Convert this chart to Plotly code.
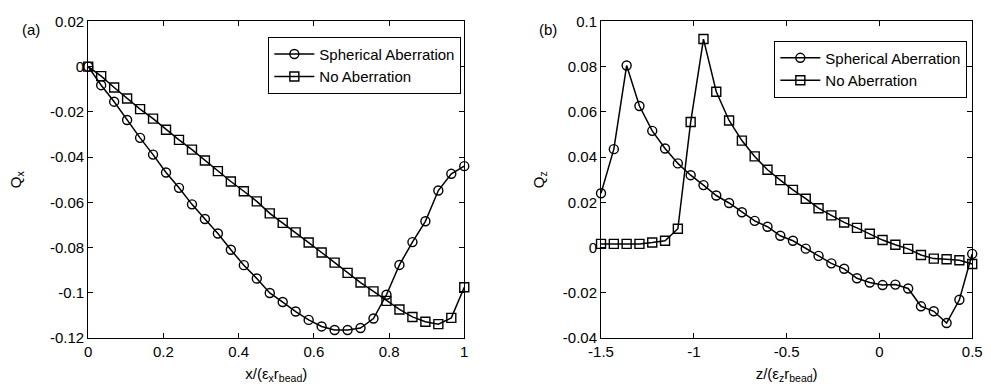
import plotly.graph_objects as go

# ---- panel (a): transverse trapping efficiency vs normalised x offset ----
x_a = [0.0, 0.0345, 0.069, 0.1034, 0.1379, 0.1724, 0.2069, 0.2414, 0.2759, 0.3103,
       0.3448, 0.3793, 0.4138, 0.4483, 0.4828, 0.5172, 0.5517, 0.5862, 0.6207, 0.6552,
       0.6897, 0.7241, 0.7586, 0.7931, 0.8276, 0.8621, 0.8966, 0.931, 0.9655, 1.0]
qx_spherical = [0.0, -0.0082, -0.0155, -0.0236, -0.0315, -0.0389, -0.0468, -0.0536, -0.0609, -0.0674,
                -0.0738, -0.0810, -0.0878, -0.0937, -0.1001, -0.1041, -0.1083, -0.1120, -0.1149, -0.1165,
                -0.1165, -0.1156, -0.1114, -0.1009, -0.0877, -0.0776, -0.0684, -0.0548, -0.0474, -0.0440]
qx_none = [0.0, -0.0042, -0.0092, -0.0141, -0.0188, -0.0230, -0.0279, -0.0324, -0.0367, -0.0415,
           -0.0462, -0.0508, -0.0551, -0.0596, -0.0649, -0.0691, -0.0733, -0.0778, -0.0822, -0.0867,
           -0.0912, -0.0955, -0.0994, -0.1036, -0.1074, -0.1107, -0.1128, -0.1139, -0.1111, -0.0976]

# ---- panel (b): axial trapping efficiency vs normalised z offset ----
z_b = [-1.5, -1.431, -1.362, -1.293, -1.224, -1.155, -1.086, -1.017, -0.948, -0.879,
       -0.810, -0.741, -0.672, -0.603, -0.534, -0.466, -0.397, -0.328, -0.259, -0.190,
       -0.121, -0.052, 0.017, 0.086, 0.155, 0.224, 0.293, 0.362, 0.431, 0.5]
qz_spherical = [0.0240, 0.0435, 0.0805, 0.0626, 0.0516, 0.0438, 0.0372, 0.0320, 0.0276, 0.0230,
                0.0197, 0.0156, 0.0118, 0.0092, 0.0052, 0.0030, -0.0005, -0.0037, -0.0070, -0.0094,
                -0.0136, -0.0155, -0.0166, -0.0164, -0.0181, -0.0260, -0.0282, -0.0334, -0.0231, -0.0028]
qz_none = [0.0016, 0.0016, 0.0016, 0.0016, 0.0022, 0.0030, 0.0083, 0.0555, 0.0922, 0.0689,
           0.0562, 0.0473, 0.0403, 0.0344, 0.0298, 0.0255, 0.0216, 0.0174, 0.0142, 0.0111,
           0.0087, 0.0061, 0.0033, 0.0012, -0.0006, -0.0033, -0.0049, -0.0052, -0.0056, -0.0073]

series_names = ["Spherical Aberration", "No Aberration"]

xa_ticks = [0, 0.2, 0.4, 0.6, 0.8, 1]
xa_ticktext = ["0", "0.2", "0.4", "0.6", "0.8", "1"]
ya_ticks = [-0.12, -0.1, -0.08, -0.06, -0.04, -0.02, 0, 0.02]
ya_ticktext = ["-0.12", "-0.1", "-0.08", "-0.06", "-0.04", "-0.02", "0", "0.02"]
xb_ticks = [-1.5, -1, -0.5, 0, 0.5]
xb_ticktext = ["-1.5", "-1", "-0.5", "0", "0.5"]
yb_ticks = [-0.04, -0.02, 0, 0.02, 0.04, 0.06, 0.08, 0.1]
yb_ticktext = ["-0.04", "-0.02", "0", "0.02", "0.04", "0.06", "0.08", "0.1"]

FONT = "Liberation Sans, Arial, sans-serif"
W, H = 991, 389


def px_x(p):
    return p / W


def px_y(p):
    return 1 - p / H


fig = go.Figure()


def add_series(x, y, name, symbol, xaxis, yaxis, legend):
    fig.add_trace(go.Scatter(
        x=x, y=y, name=name, mode="lines+markers",
        xaxis=xaxis, yaxis=yaxis, legend=legend, cliponaxis=False,
        line=dict(color="black", width=1.5),
        marker=dict(symbol=symbol, size=9, color="black",
                    line=dict(color="black", width=1.4)),
    ))


add_series(x_a, qx_spherical, series_names[0], "circle-open", "x", "y", "legend")
add_series(x_a, qx_none, series_names[1], "square-open", "x", "y", "legend")
add_series(z_b, qz_spherical, series_names[0], "circle-open", "x2", "y2", "legend2")
add_series(z_b, qz_none, series_names[1], "square-open", "x2", "y2", "legend2")

axis_common = dict(
    showgrid=False, zeroline=False, showline=True, linecolor="black", linewidth=1,
    mirror="ticks", ticks="inside", ticklen=5, tickcolor="black",
    tickfont=dict(family=FONT, size=15, color="black"),
    title_font=dict(family=FONT, size=15, color="black"),
)

y_dom = [px_y(344), px_y(13)]

legend_common = dict(
    bgcolor="white", bordercolor="black", borderwidth=1,
    font=dict(family=FONT, size=15, color="black"),
    itemwidth=40, tracegroupgap=0, yanchor="top", xanchor="right",
)

fig.update_layout(
    width=W, height=H,
    margin=dict(l=0, r=0, t=0, b=0),
    paper_bgcolor="white", plot_bgcolor="white",
    font=dict(family=FONT, size=14, color="black"),
    xaxis=dict(axis_common, domain=[px_x(77), px_x(462)], range=[0, 1],
               tickvals=xa_ticks, ticktext=xa_ticktext,
               title=dict(text="x/(ε<sub>x</sub>r<sub>bead</sub>)", standoff=9), anchor="y"),
    yaxis=dict(axis_common, domain=y_dom, range=[-0.12, 0.02],
               tickvals=ya_ticks, ticktext=ya_ticktext,
               title=dict(text="Q<sub>x</sub>", standoff=24), anchor="x"),
    xaxis2=dict(axis_common, domain=[px_x(602), px_x(982)], range=[-1.5, 0.5],
                tickvals=xb_ticks, ticktext=xb_ticktext,
                title=dict(text="z/(ε<sub>z</sub>r<sub>bead</sub>)", standoff=9), anchor="y2"),
    yaxis2=dict(axis_common, domain=y_dom, range=[-0.04, 0.1],
                tickvals=yb_ticks, ticktext=yb_ticktext,
                title=dict(text="Q<sub>z</sub>", standoff=14), anchor="x2"),
    legend=dict(legend_common, x=px_x(459), y=px_y(29)),
    legend2=dict(legend_common, x=px_x(977), y=px_y(33)),
    showlegend=True,
    annotations=[
        dict(text="(a)", x=px_x(7), y=px_y(21), xref="paper", yref="paper",
             xanchor="left", yanchor="middle", showarrow=False,
             font=dict(family=FONT, size=15, color="black")),
        dict(text="(b)", x=px_x(536), y=px_y(21), xref="paper", yref="paper",
             xanchor="left", yanchor="middle", showarrow=False,
             font=dict(family=FONT, size=15, color="black")),
    ],
)

fig.write_html("out.html")
